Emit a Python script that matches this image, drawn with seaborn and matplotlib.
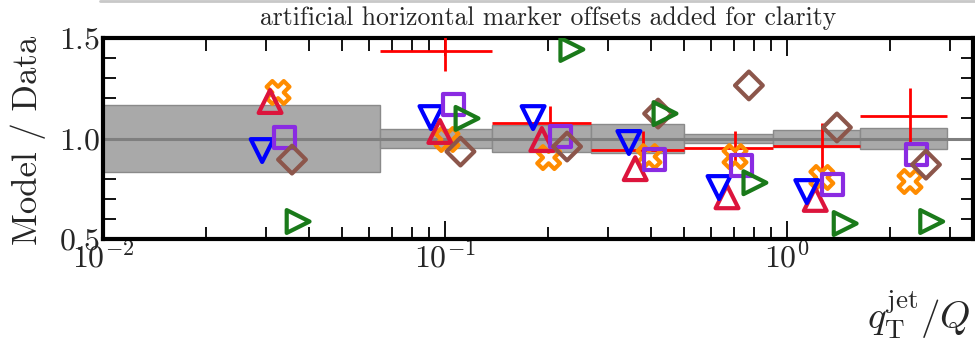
import numpy as np
import pandas as pd
import matplotlib
matplotlib.use("Agg")
import matplotlib.pyplot as plt
from matplotlib.lines import Line2D
from matplotlib.ticker import FixedLocator, MultipleLocator, LogLocator, NullFormatter
import seaborn as sns

# --- data -------------------------------------------------------------
# q_T^jet / Q bin edges and relative data uncertainty (half-width of band)
bin_edges = [0.01, 0.0646, 0.137, 0.267, 0.50, 0.91, 1.63, 2.94]
band_halfwidth = [0.165, 0.048, 0.068, 0.07, 0.022, 0.04, 0.05]

# red model: central values with bin-wide horizontal bars
red_x = [0.100, 0.203, 0.379, 0.705, 1.27, 2.29]
red_y = [1.435, 1.075, 0.945, 0.955, 0.965, 1.11]
red_err_lo = [0.10, 0.085, 0.09, 0.08, 0.16, 0.14]
red_err_hi = [0.10, 0.085, 0.09, 0.08, 0.11, 0.14]
red_bin_lo = [0.0646, 0.137, 0.267, 0.50, 0.91, 1.63]
red_bin_hi = [0.137, 0.267, 0.50, 0.91, 1.63, 2.94]

orange_x = [0.0325, 0.1014, 0.201, 0.395, 0.705, 1.265, 2.29]
orange_y = [1.229, 0.995, 0.905, 0.91, 0.91, 0.806, 0.786]

crimson_x = [0.0308, 0.0966, 0.192, 0.36, 0.668, 1.21]
crimson_y = [1.184, 1.035, 0.995, 0.85, 0.71, 0.697]

blue_x = [0.0292, 0.091, 0.181, 0.345, 0.633, 1.143]
blue_y = [0.94, 1.104, 1.104, 0.98, 0.756, 0.736]

purple_x = [0.034, 0.106, 0.217, 0.411, 0.738, 1.355, 2.40]
purple_y = [1.005, 1.169, 1.01, 0.895, 0.866, 0.77, 0.92]

brown_x = [0.0357, 0.111, 0.2275, 0.42, 0.774, 1.40, 2.55]
brown_y = [0.895, 0.935, 0.96, 1.124, 1.264, 1.055, 0.87]

green_x = [0.0372, 0.116, 0.235, 0.44, 0.806, 1.48, 2.65]
green_y = [0.587, 1.10, 1.443, 1.124, 0.78, 0.577, 0.587]

series = [
    ("orange", orange_x, orange_y, "X", "#ff8c00"),
    ("crimson", crimson_x, crimson_y, "^", "#dc143c"),
    ("blue", blue_x, blue_y, "v", "#0000ff"),
    ("purple", purple_x, purple_y, "s", "#8a2be2"),
    ("brown", brown_x, brown_y, "D", "#8c564b"),
    ("green", green_x, green_y, ">", "#1a7a1a"),
]

# --- style ------------------------------------------------------------
sns.set_style("ticks")
plt.rcParams["font.family"] = ["cmr10"]
plt.rcParams["mathtext.fontset"] = "cm"
plt.rcParams["axes.formatter.use_mathtext"] = True
plt.rcParams["axes.unicode_minus"] = True

fig = plt.figure(figsize=(9.75, 3.44), dpi=100)
ax = fig.add_axes([103 / 975, 105 / 344, 870 / 975, 201 / 344])

# data uncertainty bands
lefts = np.array(bin_edges[:-1])
widths = np.diff(bin_edges)
hw = np.array(band_halfwidth)
ax.bar(lefts, 2 * hw, width=widths, bottom=1 - hw, align="edge",
       color="#a9a9a9", edgecolor="#8a8a8a", linewidth=1.0, zorder=1)
ax.axhline(1.0, color="#7f7f7f", lw=2.2, zorder=2)

# red model with bin-wide bars
rx = np.array(red_x)
xerr = [rx - np.array(red_bin_lo), np.array(red_bin_hi) - rx]
ax.errorbar(rx, red_y, xerr=xerr, yerr=[red_err_lo, red_err_hi], fmt="none",
            ecolor="red", elinewidth=2.0, capsize=0, zorder=3)

# open markers for each model
marker_area = {"X": 270, "^": 270, "v": 270, "s": 230, "D": 200, ">": 270}
for i, (name, xs, ys, mk, col) in enumerate(series):
    df = pd.DataFrame({"x": xs, "y": ys})
    sns.scatterplot(data=df, x="x", y="y", ax=ax, marker=mk, s=marker_area[mk],
                    color=col, facecolor="none", edgecolor=col, linewidth=3.0,
                    zorder=4 + i, legend=False)

ax.set_xscale("log")
ax.set_xlim(0.01, 3.5)
ax.set_ylim(0.5, 1.5)
ax.set_xlabel("")
ax.set_ylabel("")

ax.yaxis.set_major_locator(FixedLocator([0.5, 1.0, 1.5]))
ax.yaxis.set_minor_locator(MultipleLocator(0.1))
ax.xaxis.set_major_locator(LogLocator(base=10, numticks=10))
ax.xaxis.set_minor_locator(LogLocator(base=10, subs=np.arange(2, 10), numticks=20))
ax.xaxis.set_minor_formatter(NullFormatter())

ax.tick_params(which="both", direction="in", top=True, right=True, labelsize=23,
               width=1.3, pad=2, color="black")
ax.tick_params(which="major", length=13)
ax.tick_params(which="minor", length=9)
for sp in ax.spines.values():
    sp.set_linewidth(3.0)
    sp.set_color("black")

fig.text(548 / 975, 1 - 18 / 344, "artificial horizontal marker offsets added for clarity",
         ha="center", va="center", fontsize=18.5)
fig.text(28 / 975, 1 - 140 / 344, "Model / Data", rotation=90, ha="center", va="center",
         fontsize=25)
fig.text(970 / 975, 1 - 315 / 344, r"$q_{\mathrm{T}}^{\mathrm{jet}}/Q$", ha="right",
         va="center", fontsize=28)

# faint edge of the panel above
fig.add_artist(Line2D([100 / 975, 1.0], [1 - 1 / 344, 1 - 1 / 344], color="#c8c8c8",
                      lw=2, transform=fig.transFigure))

fig.savefig("out.png", dpi=100)
